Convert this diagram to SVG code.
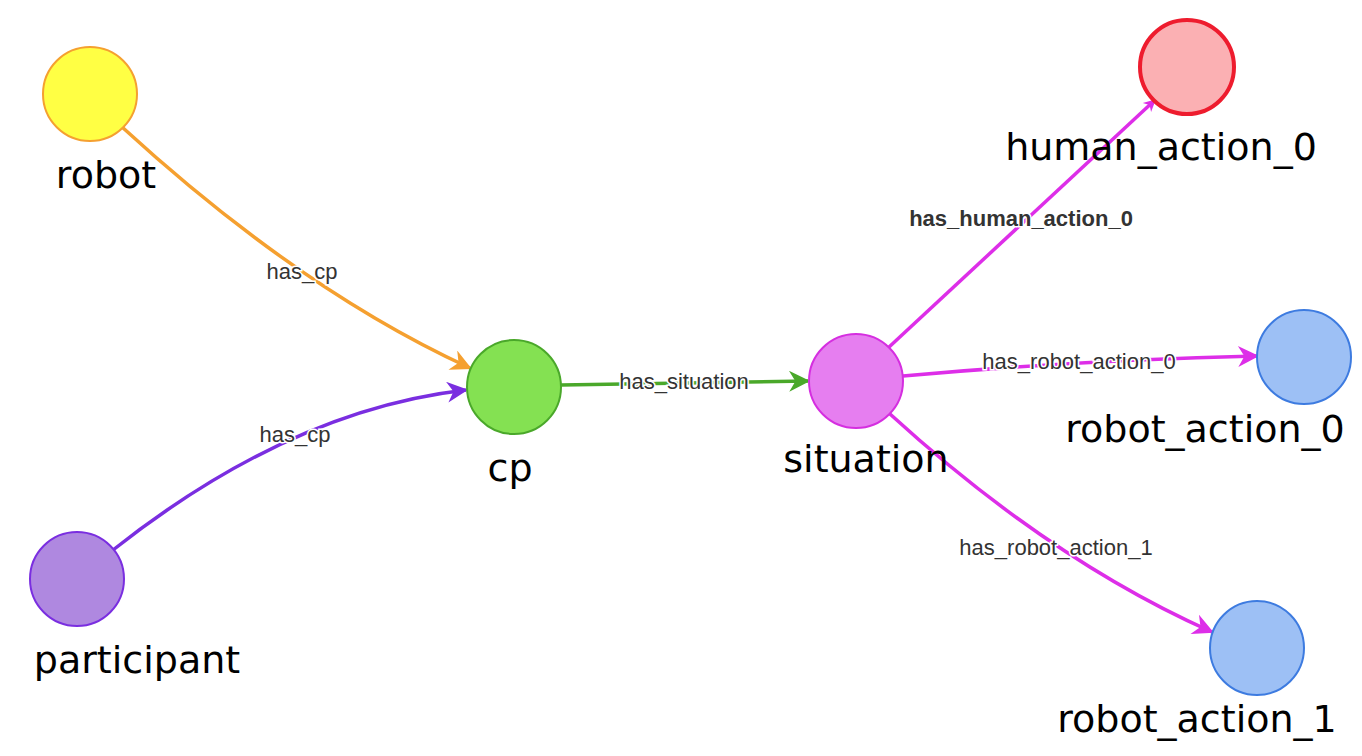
<svg xmlns="http://www.w3.org/2000/svg" width="1362" height="756" viewBox="0 0 1362 756">
<style>
.n{stroke-width:2}
.lbl{font-family:"DejaVu Sans",sans-serif;font-size:38px;fill:#000;text-anchor:middle}
.el{font-family:"Liberation Sans",Arial,sans-serif;font-size:22px;fill:#333;text-anchor:middle;stroke:#fff;stroke-width:3;paint-order:stroke}
.e{fill:none;stroke-width:3.5}
</style>
<defs>
<marker id="ao" viewBox="0 0 10 10" refX="9" refY="5" markerWidth="9" markerHeight="6" markerUnits="strokeWidth" orient="auto"><path d="M0,0L10,5L0,10L3,5z" fill="#f5a030"/></marker>
<marker id="ap" viewBox="0 0 10 10" refX="9" refY="5" markerWidth="9" markerHeight="6" markerUnits="strokeWidth" orient="auto"><path d="M0,0L10,5L0,10L3,5z" fill="#7a2ee0"/></marker>
<marker id="ag" viewBox="0 0 10 10" refX="9" refY="5" markerWidth="9" markerHeight="6" markerUnits="strokeWidth" orient="auto"><path d="M0,0L10,5L0,10L3,5z" fill="#4aa82a"/></marker>
<marker id="am" viewBox="0 0 10 10" refX="9" refY="5" markerWidth="9" markerHeight="6" markerUnits="strokeWidth" orient="auto"><path d="M0,0L10,5L0,10L3,5z" fill="#dd2ee8"/></marker>
<marker id="am2" viewBox="0 0 10 10" refX="9" refY="5" markerWidth="5" markerHeight="3.5" markerUnits="strokeWidth" orient="auto"><path d="M0,0L10,5L0,10L3,5z" fill="#dd2ee8"/></marker>
</defs>
<g id="connectors">
<path class="e" stroke="#f5a030" d="M122,127 Q300,290 470,368" marker-end="url(#ao)"/>
<path class="e" stroke="#7a2ee0" d="M113,550 Q290,410 466,390" marker-end="url(#ap)"/>
<path class="e" stroke="#4aa82a" d="M561,385 L808,381" marker-end="url(#ag)"/>
<path class="e" stroke="#dd2ee8" stroke-width="6" d="M888,348 L1155,100" marker-end="url(#am2)"/>
<path class="e" stroke="#dd2ee8" d="M903,376 Q1080,360 1257,356" marker-end="url(#am)"/>
<path class="e" stroke="#dd2ee8" d="M890,414 Q1050,560 1212,632" marker-end="url(#am)"/>
<text class="el" x="302" y="279">has_cp</text>
<text class="el" x="295" y="442">has_cp</text>
<text class="el" x="684" y="389">has_situation</text>
<text class="el" x="1021" y="226" font-weight="bold">has_human_action_0</text>
<text class="el" x="1079" y="369">has_robot_action_0</text>
<text class="el" x="1056" y="555">has_robot_action_1</text>
</g>
<g id="robot"><circle class="n" cx="90" cy="94" r="47" fill="#ffff44" stroke="#f5a030"/><text class="lbl" x="106" y="188">robot</text></g>
<g id="cp"><circle class="n" cx="514" cy="387" r="47" fill="#84e152" stroke="#4aa82a"/><text class="lbl" x="510" y="481">cp</text></g>
<g id="participant"><circle class="n" cx="77" cy="579" r="47" fill="#af88e0" stroke="#7a2ee0"/><text class="lbl" x="137" y="673">participant</text></g>
<g id="situation"><circle class="n" cx="856" cy="381" r="47" fill="#e67ef0" stroke="#d52ee0"/><text class="lbl" x="866" y="472">situation</text></g>
<g id="human_action_0"><circle cx="1187" cy="67" r="47" fill="#fbb0b3" stroke="#ee1c2e" stroke-width="4"/><text class="lbl" x="1161" y="160">human_action_0</text></g>
<g id="robot_action_0"><circle class="n" cx="1304" cy="357" r="47" fill="#9dc0f5" stroke="#3d7be0"/><text class="lbl" x="1205" y="442">robot_action_0</text></g>
<g id="robot_action_1"><circle class="n" cx="1257" cy="648" r="47" fill="#9dc0f5" stroke="#3d7be0"/><text class="lbl" x="1197" y="732">robot_action_1</text></g>
</svg>
